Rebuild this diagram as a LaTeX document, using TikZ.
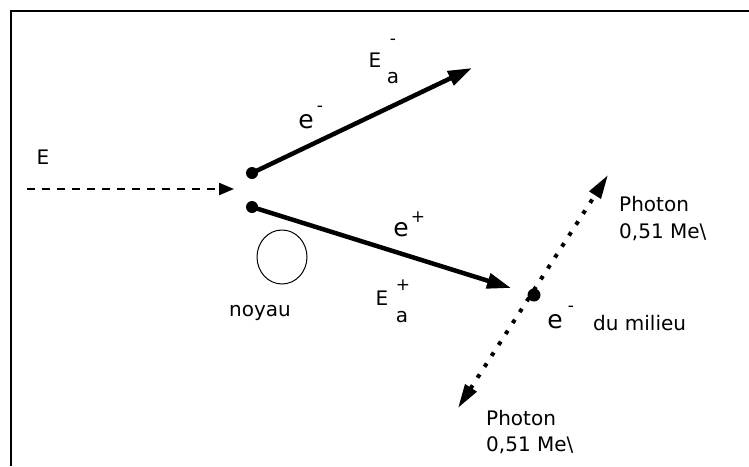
\documentclass[tikz,border=0pt]{standalone}
\usepackage{fontspec}
\setmainfont{DejaVu Sans}
\usetikzlibrary{arrows.meta,positioning}

\tikzset{
	lbl/.style={font=\fontsize{20}{28}\selectfont, inner sep=0pt},
	elbl/.style={font=\fontsize{25}{28}\selectfont, inner sep=0pt},
	sgn/.style={font=\fontsize{17}{18}\selectfont, inner sep=0pt},
	dot/.style={circle, fill, inner sep=0pt, minimum size=12pt},
	incident/.style={line width=2.2pt, dash pattern=on 8pt off 7pt, -{Triangle[length=15pt,width=12pt]}},
	track/.style={line width=4.5pt, -{Triangle[length=24pt,width=15pt]}},
	photon/.style={line width=4pt, dash pattern=on 4pt off 9pt, {Triangle[length=24pt,width=13pt]}-{Triangle[length=24pt,width=13pt]}}
}

\begin{document}
\begin{tikzpicture}[x=1pt, y=-1pt]
	\useasboundingbox (0,0) rectangle (749,466);
	\draw[line width=2.2pt] (11,466) -- (11,11) -- (749,11);
	
	% incident photon
	\node[lbl] (E) at (43,157) {E};
	\coordinate (in0) at (27,189);
	\coordinate (in1) at (234,189);
	\draw[incident] (in0) -- (in1);
	
	% pair near the nucleus
	\node[dot] (em0) at (252,173) {};
	\node[dot] (ep0) at (252,207) {};
	\coordinate (em1) at (472,68);
	\coordinate (ep1) at (511,288);
	\draw[track] (em0.center) -- (em1);
	\draw[track] (ep0.center) -- (ep1);
	\draw[line width=1pt] (282,257) ellipse [x radius=25, y radius=27];
	\node[lbl] (noyau) at (260,313) {noyau};
	
	\node[elbl] (em) at (306,122) {e};
	\node[sgn] (emS) at (320,109) {-};
	\node[lbl] (Eam) at (375,60) {E};
	\node[lbl] (Eama) at (393,78) {a};
	\node[sgn] (EamS) at (393,42) {-};
	
	\node[elbl] (ep) at (401,230) {e};
	\node[sgn] (epS) at (418,217) {+};
	\node[lbl] (Eap) at (382,298) {E};
	\node[lbl] (Eapa) at (402,317) {a};
	\node[sgn] (EapS) at (403,285) {+};
	
	% annihilation
	\node[dot, minimum size=13pt] (mil) at (534,295) {};
	\coordinate (ph1) at (608,175);
	\coordinate (ph2) at (458,408);
	\draw[photon] (ph2) -- (ph1);
	\node[elbl] (emil) at (555,322) {e};
	\node[sgn] (emilS) at (571,309) {-};
	\node[lbl, anchor=west] (milieu) at (593,323) {du milieu};
	
	\node[lbl, anchor=west] (ph1a) at (619,204) {Photon};
	\node[lbl, anchor=west] (ph1b) at (619,232) {0,51 Me\textbackslash};
	\node[lbl, anchor=west] (ph2a) at (486,418) {Photon};
	\node[lbl, anchor=west] (ph2b) at (486,445) {0,51 Me\textbackslash};
\end{tikzpicture}
\end{document}
